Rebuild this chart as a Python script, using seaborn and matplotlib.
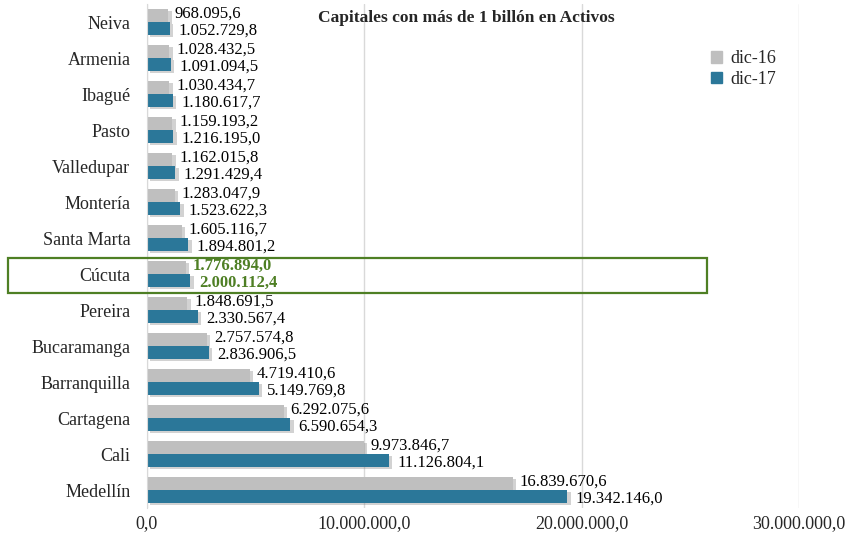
import numpy as np
import pandas as pd
import matplotlib
matplotlib.use("Agg")
import matplotlib.pyplot as plt
import matplotlib.patheffects as pe
from matplotlib.patches import Rectangle, Patch
import seaborn as sns

# data
ciudades = ["Neiva", "Armenia", "Ibagué", "Pasto", "Valledupar", "Montería",
            "Santa Marta", "Cúcuta", "Pereira", "Bucaramanga", "Barranquilla",
            "Cartagena", "Cali", "Medellín"]
dic16 = [968095.6, 1028432.5, 1030434.7, 1159193.2, 1162015.8, 1283047.9,
         1605116.7, 1776894.0, 1848691.5, 2757574.8, 4719410.6,
         6292075.6, 9973846.7, 16839670.6]
dic17 = [1052729.8, 1091094.5, 1180617.7, 1216195.0, 1291429.4, 1523622.3,
         1894801.2, 2000112.4, 2330567.4, 2836906.5, 5149769.8,
         6590654.3, 11126804.1, 19342146.0]
periodos = ["dic-16", "dic-17"]
resaltada = "Cúcuta"

gris = "#BFBFBF"
azul = "#2B7799"
verde = "#4E7F24"

df = pd.DataFrame({
    "ciudad": ciudades * 2,
    "periodo": [periodos[0]] * len(ciudades) + [periodos[1]] * len(ciudades),
    "valor": dic16 + dic17,
})


def fmt(v):
    return f"{v:,.1f}".replace(",", "X").replace(".", ",").replace("X", ".")


sns.set_style("white")
plt.rcParams["font.family"] = ["Liberation Serif", "DejaVu Serif"]
fs = 13

fig = plt.figure(figsize=(8.58, 5.38), dpi=100)
ax = fig.add_axes([147 / 858, 1 - 508 / 538, 652 / 858, 504 / 538])

sns.barplot(data=df, y="ciudad", x="valor", hue="periodo", order=ciudades,
            hue_order=periodos, palette=[gris, azul], orient="h", width=0.72,
            ax=ax, legend=False, saturation=1, linewidth=0)

shadow = [pe.SimplePatchShadow(offset=(2.5, -1.5), shadow_rgbFace="#808080",
                               alpha=0.35), pe.Normal()]
for p in ax.patches:
    p.set_path_effects(shadow)

ax.set_xlim(0, 30000000)
ax.set_xticks([0, 10000000, 20000000, 30000000])
ax.set_xticklabels([fmt(t) for t in [0, 10000000, 20000000, 30000000]],
                   fontsize=fs)
ax.tick_params(axis="y", labelsize=fs, pad=12, length=0)
ax.tick_params(axis="x", length=0, pad=5)
ax.set_xlabel("")
ax.set_ylabel("")
ax.grid(axis="x", color="#D9D9D9", lw=1)
ax.set_axisbelow(True)
for s in ["top", "right", "bottom"]:
    ax.spines[s].set_visible(False)
ax.spines["left"].set_color("#D9D9D9")

# value labels: gray one nudged up, blue one nudged down
for cont, vals, dx, dy in zip(ax.containers, [dic16, dic17], [5, 6], [-1, 1.5]):
    for bar, v, c in zip(cont, vals, ciudades):
        y = bar.get_y() + bar.get_height() / 2
        bold = c == resaltada
        ax.annotate(fmt(v), (bar.get_width(), y), xytext=(dx, -dy),
                    textcoords="offset points", va="center", ha="left",
                    fontsize=12, color=verde if bold else "black",
                    fontweight="bold" if bold else "normal")

ax.text(0.49, 0.972, "Capitales con más de 1 billón en Activos",
        transform=ax.transAxes, ha="center", va="center",
        fontsize=12.5, fontweight="bold")

handles = [Patch(color=gris), Patch(color=azul)]
ax.legend(handles, periodos, loc="upper left", bbox_to_anchor=(0.84, 0.94),
          frameon=False, fontsize=fs, handlelength=0.6, handleheight=0.6,
          handletextpad=0.5, labelspacing=0.2)

fig.patches.append(Rectangle((8 / 858, 1 - 293 / 538), 699 / 858, 35 / 538,
                             transform=fig.transFigure, fill=False,
                             edgecolor=verde, lw=1.6))

fig.savefig("out.png", dpi=100)
